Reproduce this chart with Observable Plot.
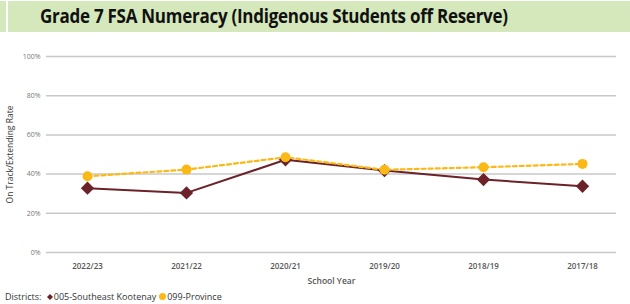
<!DOCTYPE html>
<html>
<head>
<meta charset="utf-8">
<script src="https://cdn.jsdelivr.net/npm/d3@7"></script>
<script src="https://cdn.jsdelivr.net/npm/@observablehq/plot@0.6"></script>
<style>
  body { margin: 0; background: #fff; width: 630px; height: 304px; overflow: hidden; font-family: "Open Sans", sans-serif; }
  #banner { position: absolute; left: 0; top: 1px; width: 630px; height: 31px; background: #d5e8bc; }
  #banner .sep { position: absolute; left: 6px; top: 0; width: 2px; height: 31px; background: #fff; }
  #banner .title { position: absolute; left: 40px; top: 0; line-height: 31px; font-size: 19px; font-weight: 700; color: #111; white-space: nowrap; letter-spacing: -0.3px; transform: scaleX(0.895); transform-origin: 0 50%; }
  #chart { position: absolute; left: 0; top: 33px; }
  #legend { position: absolute; left: 5px; top: 291px; font-size: 9px; color: #333; white-space: nowrap; line-height: 12px; }
  #legend span.sw { display: inline-block; vertical-align: middle; margin: 0 1px 1px 3px; }
</style>
</head>
<body>
<div id="banner"><div class="sep"></div><div class="title">Grade 7 FSA Numeracy (Indigenous Students off Reserve)</div></div>
<div id="chart"></div>
<div id="legend"></div>
<script>
const years = ["2022/23", "2021/22", "2020/21", "2019/20", "2018/19", "2017/18"];
const district = [32.8, 30.4, 47.3, 41.8, 37.2, 33.8];
const province = [38.9, 42.3, 48.6, 42.2, 43.5, 45.2];
const yTicks = [0, 20, 40, 60, 80, 100];
const seriesNames = ["005-Southeast Kootenay", "099-Province"];
const colors = ["#6b2228", "#fbb917"];

const dData = years.map((y, i) => ({year: y, value: district[i]}));
const pData = years.map((y, i) => ({year: y, value: province[i]}));

const chart = Plot.plot({
  width: 630,
  height: 258,
  marginLeft: 46,
  marginRight: 14,
  marginTop: 23,
  marginBottom: 39,
  style: {fontFamily: "'Open Sans', sans-serif", background: "transparent"},
  x: {type: "point", domain: years, padding: 0, insetLeft: 40, insetRight: 34, label: null},
  y: {domain: [0, 100], label: null},
  marks: [
    Plot.ruleY(yTicks, {stroke: "#c8c8c8", strokeWidth: 1.5}),
    Plot.axisY({ticks: yTicks, tickSize: 0, tickPadding: 6, tickFormat: d => d + "%", fontSize: 7, fill: "#777", label: null}),
    Plot.text(["On Track/Extending Rate"], {frameAnchor: "left", textAnchor: "middle", dx: -36, rotate: -90, fontSize: 8.5, fill: "#333"}),
    Plot.axisX({tickSize: 0, tickPadding: 11, fontSize: 8, fill: "#555", fontWeight: 600, label: null}),
    Plot.text(["School Year"], {frameAnchor: "bottom", dy: 31, fontSize: 8.5, fill: "#555", fontWeight: 600}),
    Plot.line(dData, {x: "year", y: "value", stroke: colors[0], strokeWidth: 2}),
    Plot.dot(dData, {x: "year", y: "value", symbol: "diamond2", r: 6, fill: colors[0], stroke: null}),
    Plot.line(pData, {x: "year", y: "value", stroke: colors[1], strokeWidth: 2.2, strokeDasharray: "4,3"}),
    Plot.dot(pData, {x: "year", y: "value", symbol: "circle", r: 5, fill: colors[1], stroke: null})
  ]
});
document.getElementById("chart").appendChild(chart);

const leg = document.getElementById("legend");
leg.innerHTML = "Districts: " + seriesNames.map((n, i) => {
  const shape = i === 0
    ? `<svg width="6" height="6" viewBox="-3 -3 6 6"><path d="M0,-3L3,0L0,3L-3,0Z" fill="${colors[0]}"/></svg>`
    : `<svg width="7" height="7" viewBox="-3.5 -3.5 7 7"><circle r="3.5" fill="${colors[1]}"/></svg>`;
  return `<span class="sw">${shape}</span>${n}`;
}).join("");
</script>
</body>
</html>
